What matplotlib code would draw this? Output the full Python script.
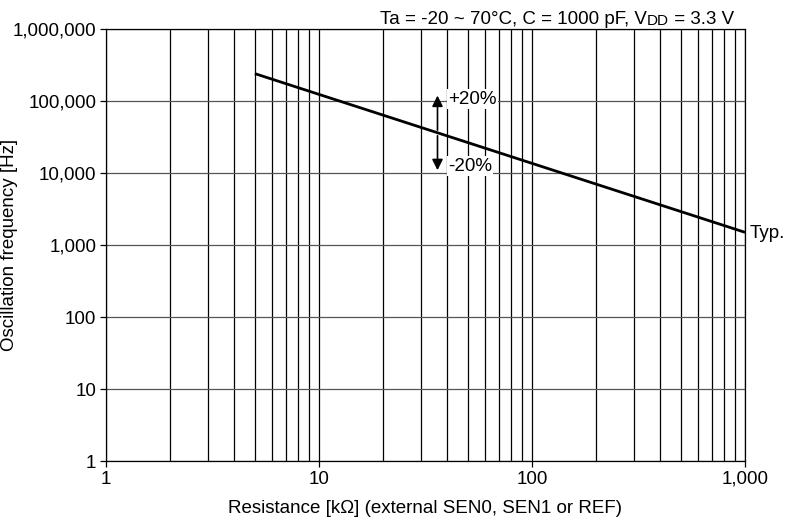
import matplotlib.pyplot as plt
from matplotlib.ticker import FixedLocator, FuncFormatter, LogLocator, NullFormatter

plt.rcParams['font.family'] = ['Liberation Sans', 'DejaVu Sans']

# typical curve
resistencia = [5, 1000]          # kOhm
frecuencia = [240000, 1500]      # Hz

# +/-20% marker
r_flecha = 36
f_arriba = 130000
f_centro = 36000
f_abajo = 10000

FS = 13.5

fig = plt.figure(figsize=(7.91, 5.21), dpi=100)
ax = fig.add_axes([106 / 791, 60 / 521, 639 / 791, 432 / 521])

ax.set_xscale('log')
ax.set_yscale('log')
ax.set_xlim(1, 1000)
ax.set_ylim(1, 1e6)

fmt = FuncFormatter(lambda v, p: '{:,.0f}'.format(v))
ax.xaxis.set_major_locator(FixedLocator([1, 10, 100, 1000]))
ax.yaxis.set_major_locator(FixedLocator([1, 10, 100, 1e3, 1e4, 1e5, 1e6]))
ax.xaxis.set_major_formatter(fmt)
ax.yaxis.set_major_formatter(fmt)
ax.xaxis.set_minor_locator(LogLocator(base=10, subs=range(2, 10)))
ax.xaxis.set_minor_formatter(NullFormatter())
ax.yaxis.set_minor_locator(FixedLocator([]))

ax.grid(True, which='major', axis='y', color='#555555', lw=0.9)
ax.grid(True, which='both', axis='x', color='black', lw=0.9)
ax.tick_params(axis='both', which='major', length=4, width=0.9, labelsize=FS, pad=3)
ax.tick_params(axis='x', which='minor', length=0)
for s in ax.spines.values():
    s.set_linewidth(0.9)

ax.plot(resistencia, frecuencia, color='black', lw=2, solid_capstyle='butt', zorder=3)

ax.annotate('', xy=(r_flecha, f_arriba), xytext=(r_flecha, f_centro),
            arrowprops=dict(arrowstyle='-|>', color='black', lw=1.2, mutation_scale=16))
ax.annotate('', xy=(r_flecha, f_abajo), xytext=(r_flecha, f_centro),
            arrowprops=dict(arrowstyle='-|>', color='black', lw=1.2, mutation_scale=16))
caja = dict(facecolor='white', edgecolor='none', pad=1)
ax.text(r_flecha * 1.12, f_arriba * 0.82, '+20%', fontsize=FS, va='center', ha='left', bbox=caja, zorder=4)
ax.text(r_flecha * 1.12, f_abajo * 1.25, '-20%', fontsize=FS, va='center', ha='left', bbox=caja, zorder=4)
ax.text(1050, frecuencia[-1] * 0.95, 'Typ.', fontsize=FS, va='center', ha='left', clip_on=False)

# condiciones arriba a la derecha (VDD con versalitas)
t1 = fig.text(380 / 791, 1 - 24 / 521, 'Ta = -20 ~ 70°C, C = 1000 pF, V', fontsize=FS, va='baseline')
t2 = ax.annotate('DD', xy=(1, 0), xycoords=t1, va='bottom', fontsize=11)
ax.annotate(' = 3.3 V', xy=(1, 0), xycoords=t2, va='bottom', fontsize=FS)

ax.set_xlabel('Resistance [kΩ] (external SEN0, SEN1 or REF)', fontsize=FS, labelpad=9)
ax.set_ylabel('Oscillation frequency [Hz]', fontsize=FS)
ax.yaxis.set_label_coords(-0.138, 0.5)

fig.savefig('out.png', dpi=100)
